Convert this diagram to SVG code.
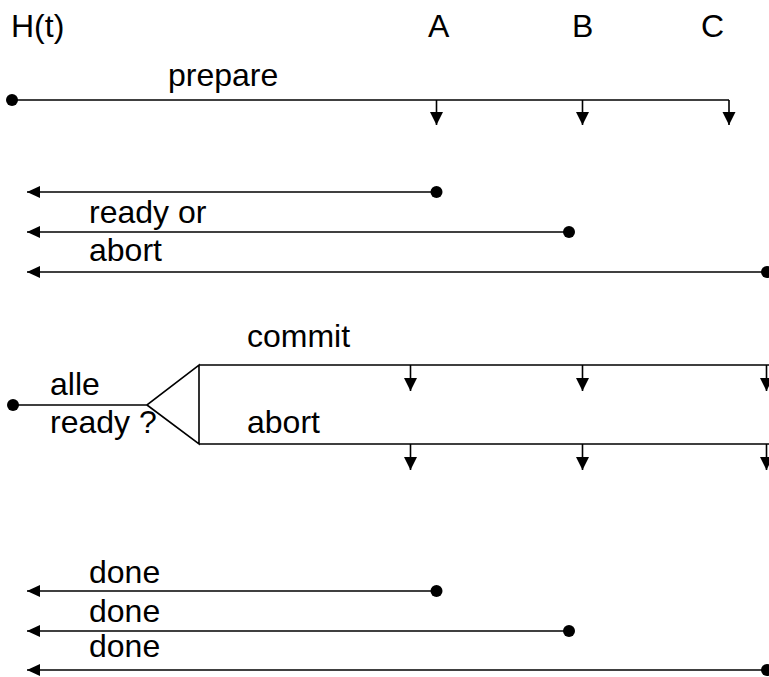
<svg xmlns="http://www.w3.org/2000/svg" width="769" height="677" viewBox="0 0 769 677">
<style>
text{font-family:"Liberation Sans",Arial,sans-serif;font-size:32px;fill:#000}
.ln{stroke:#000;stroke-width:1.6;fill:none}
.dot{fill:#000}
.dn{marker-end:url(#down)}
.lf{marker-end:url(#left)}
</style>
<defs>
<marker id="down" markerUnits="userSpaceOnUse" markerWidth="14" markerHeight="14" viewBox="0 0 14 14" refX="7" refY="13" orient="0">
<path d="M0.5,0 L13.5,0 L7,13 Z" fill="#000"/>
</marker>
<marker id="left" markerUnits="userSpaceOnUse" markerWidth="14" markerHeight="14" viewBox="0 0 14 14" refX="1" refY="7" orient="0">
<path d="M1,7 L14,1 L14,13 Z" fill="#000"/>
</marker>
</defs>
<g id="labels">
<text x="11" y="37">H(t)</text>
<text x="428" y="37">A</text>
<text x="572" y="37">B</text>
<text x="701" y="37">C</text>
</g>
<g id="prepare">
<text x="168" y="86">prepare</text>
<circle class="dot" cx="12" cy="100" r="6"/>
</g>
<g id="votes">
<text x="89" y="223">ready or</text>
<text x="89" y="261">abort</text>
<circle class="dot" cx="436.5" cy="192" r="6"/>
<circle class="dot" cx="569" cy="232" r="6"/>
<circle class="dot" cx="767" cy="272" r="6"/>
</g>
<g id="decision">
<text x="50" y="395">alle</text>
<text x="50" y="433">ready ?</text>
<text x="247" y="347">commit</text>
<text x="247" y="433">abort</text>
<circle class="dot" cx="13" cy="405" r="6"/>
</g>
<g id="done">
<text x="89" y="583">done</text>
<text x="89" y="622">done</text>
<text x="89" y="657">done</text>
<circle class="dot" cx="436.5" cy="591" r="6"/>
<circle class="dot" cx="569" cy="631" r="6"/>
<circle class="dot" cx="767" cy="670" r="6"/>
</g>
<g id="connectors">
<path class="ln" d="M12,100 H729"/>
<path class="ln dn" d="M436.5,100 V125"/>
<path class="ln dn" d="M582.5,100 V125"/>
<path class="ln dn" d="M729,100 V125"/>
<path class="ln lf" d="M436.5,192 H27"/>
<path class="ln lf" d="M569,232 H27"/>
<path class="ln lf" d="M767,272 H27"/>
<path class="ln" d="M13,405 H147 L199,365 V444 L147,405"/>
<path class="ln" d="M199,365 H769 M199,444 H769"/>
<path class="ln dn" d="M410.5,365 V391"/>
<path class="ln dn" d="M582.5,365 V391"/>
<path class="ln dn" d="M766.5,365 V391"/>
<path class="ln dn" d="M410.5,444 V470"/>
<path class="ln dn" d="M582.5,444 V470"/>
<path class="ln dn" d="M766.5,444 V470"/>
<path class="ln lf" d="M436.5,591 H27"/>
<path class="ln lf" d="M569,631 H27"/>
<path class="ln lf" d="M767,670 H27"/>
</g>
</svg>
